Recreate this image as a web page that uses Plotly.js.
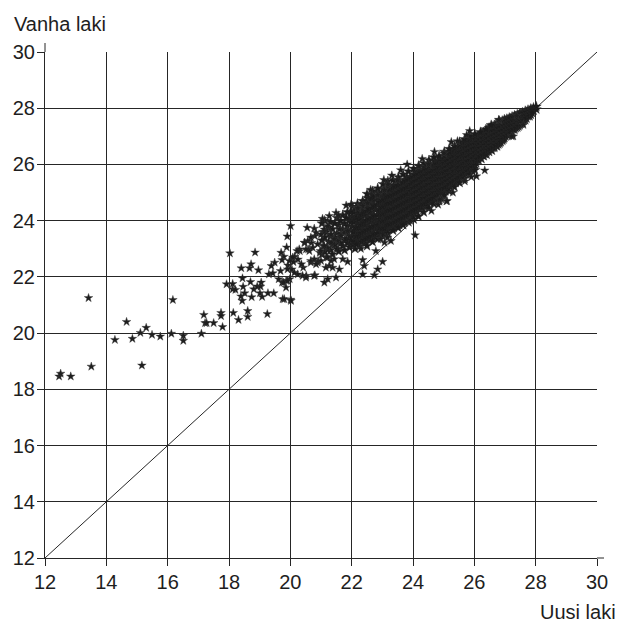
<!DOCTYPE html>
<html>
<head>
<meta charset="utf-8">
<script src="https://cdn.plot.ly/plotly-3.0.1.min.js"></script>
<style>html,body{margin:0;padding:0;background:#fff}#chart{width:621px;height:623px}</style>
</head>
<body>
<div id="chart"></div>
<script>
// Scattered individual points: [uusi laki, vanha laki]
const lowPoints = [
[12.46,18.46],[12.51,18.56],[12.84,18.46],[13.42,21.25],[13.51,18.81],[14.28,19.76],[14.66,20.40],[14.85,19.80],
[15.11,20.01],[15.16,18.85],[15.30,20.19],[15.49,19.94],[15.76,19.88],[16.12,19.98],[16.17,21.18],[16.51,19.91],
[16.51,19.73],[17.10,19.98],[17.18,20.65],[17.22,20.36],[17.27,20.36],[17.50,20.36],[17.74,20.72],[17.74,20.61],
[17.79,20.22],[18.14,20.72],[18.31,20.47],[18.61,20.79],[18.61,20.58],[19.25,20.68],[18.03,22.84],[18.85,22.87],
[18.40,22.31],[18.67,22.31],[18.72,22.45],[18.96,22.24],[18.44,21.95],[17.92,21.74],[18.12,21.75],[18.12,21.56],
[18.21,21.54],[18.46,21.65],[18.70,21.82],[18.51,21.42],[18.39,21.31],[18.43,21.15],[18.74,21.28],[18.81,21.56],
[18.92,21.66],[19.03,21.66],[19.05,21.80],[19.01,21.42],[19.08,21.29],[19.27,21.42],[19.46,21.42],[19.75,21.21],
[20.01,21.19]
];
const midPoints = [
[20.01,23.81],[19.90,23.44],[19.88,23.05],[19.70,22.86],[19.79,22.72],[19.73,22.60],[19.49,22.51],[19.38,22.39],
[19.30,22.09],[19.43,22.13],[19.62,21.92],[19.73,21.80],[19.87,21.86],[19.98,21.92],[19.68,22.21],[19.92,22.41],
[20.10,22.53],[20.05,22.27],[20.14,22.72],[20.31,22.92],[20.25,22.62],[20.55,23.75],[20.78,23.72],[20.47,23.21],
[20.58,22.98],[20.69,23.21],[20.80,23.45],[20.42,22.33],[20.52,22.04],[20.80,22.06],[20.67,22.51],[20.36,22.45],
[20.91,22.56],[20.96,22.86],[21.05,24.07],[21.27,24.17],[21.49,24.28],[21.57,24.19],[21.82,24.54],[21.98,24.58],
[22.20,24.46],[22.36,24.52],[22.52,24.62],[20.84,23.57],[21.00,23.51],[21.11,23.69],[21.22,23.81],[21.33,23.51],
[21.60,23.69],[21.76,23.57],[21.87,23.63],[21.65,23.46],[21.54,23.28],[21.43,23.34],[21.33,23.22],[21.22,23.04],
[21.11,23.10],[20.98,22.92],[20.89,23.16],[20.73,23.04],[20.62,22.92],[20.51,22.98],[20.67,23.40],[20.57,23.28],
[20.46,23.22],[20.29,22.98],[20.22,22.92],[20.08,22.69],[19.97,22.57],[20.67,22.57],[20.78,22.63],[20.89,22.51],
[21.00,22.57],[20.84,22.45],[21.22,22.69],[21.33,22.57],[21.43,22.63],[21.27,22.39],[21.38,22.33],[21.16,22.33],
[21.71,22.63],[21.87,22.54],[21.60,22.27],[22.36,22.60],[22.41,22.39],[23.01,22.54],[22.85,22.27],[22.74,22.06],
[22.36,22.09],[21.49,21.98],[21.22,21.92],[21.11,21.80],[20.78,22.04],[20.51,21.98],[20.40,22.04],[20.24,22.09],
[20.13,22.15],[19.91,22.27],[19.78,21.80],[19.91,21.86],[19.86,21.62],[19.80,21.21],[20.02,21.15],[24.07,23.48],
[23.17,23.40],[23.28,23.28],[23.07,23.22],[22.79,22.92]
];
const edgePoints = [
[23.81,26.00],[24.19,25.94],[24.51,26.01],[23.31,25.61],[23.18,25.29],[23.49,25.44],[23.07,25.09],[22.85,24.91],
[22.20,24.44],[25.01,26.39],[25.45,26.83],[25.85,27.19],[26.80,27.58],[27.38,27.73],[26.34,25.79],[26.07,25.58],
[25.69,25.40],[25.09,24.69],[24.82,24.57],[24.93,24.76],[24.87,24.75],[25.11,24.70],[27.27,27.00],[27.60,27.41],
[26.82,27.56],[27.22,27.00],[26.80,27.59],
[22.62,25.10],[23.05,25.45],[23.60,25.80],[24.30,26.20],[24.70,26.45],[25.25,26.80],[25.75,27.05],[23.90,24.00],
[24.60,24.35],[25.30,25.00],[25.90,25.55],[22.30,23.00],[22.95,23.35]
];
// Dense band, first pass: column positions and the vanha laki values read in each
const bandX = [
21.03,21.12,21.18,21.31,21.38,21.52,21.58,21.71,21.77,21.86,21.93,
22.02,22.11,22.19,22.27,22.36,22.44,22.53,22.61,22.70,22.78,22.87,22.95,
23.03,23.12,23.20,23.29,23.37,23.46,23.55,23.63,23.72,23.80,23.89,23.97,
24.04,24.12,24.21,24.29,24.38,24.46,24.55,24.63,24.72,24.80,24.89,24.97,
25.05,25.13,25.22,25.30,25.39,25.47,25.56,25.64,25.73,25.81,25.90,25.98,
26.06,26.14,26.23,26.31,26.40,26.48,26.57,26.65,26.74,26.82,26.91,26.98,
27.06,27.14,27.23,27.31,27.40,27.48,
27.57,27.66,27.75,27.84,27.93,28.02
];
const bandY = [
[23.9,23.3,22.8],[24.0,23.4,22.9],[23.6,23.0,22.7],[23.95,23.45,22.95],[23.7,23.15,22.8],[24.1,23.55,23.0],
[23.85,23.35,22.9],[24.2,23.7,23.1],[23.9,23.3,22.95],[24.3,23.8,23.2],[24.05,23.45,23.05],
[24.5,24.15,23.8,23.45,23.15],[24.35,24.0,23.65,23.3,23.0],[24.6,24.25,23.9,23.6,23.25],[24.45,24.1,23.75,23.4,23.1],
[24.7,24.3,24.0,23.7,23.35],[24.55,24.2,23.85,23.5,23.2],[24.8,24.45,24.1,23.8,23.45],[24.65,24.3,23.95,23.6,23.3],
[24.9,24.55,24.2,23.9,23.55],[24.75,24.4,24.05,23.7,23.4],[25.0,24.6,24.3,23.95,23.65],[24.85,24.5,24.15,23.8,23.5],
[25.1,24.85,24.6,24.35,24.1,23.85,23.6],[25.0,24.75,24.5,24.25,24.0,23.75,23.65],[25.2,24.95,24.7,24.45,24.2,23.95,23.7],
[25.05,24.8,24.55,24.3,24.05,23.8,24.9],[25.25,25.0,24.75,24.5,24.25,24.0,23.75],[25.15,24.9,24.65,24.4,24.15,23.9,23.8],
[25.35,25.1,24.85,24.6,24.35,24.1,23.85],[25.2,24.95,24.7,24.45,24.2,24.0,23.9],[25.45,25.2,24.95,24.7,24.45,24.2,23.95],
[25.3,25.05,24.8,24.55,24.3,24.1,25.55],[25.5,25.25,25.0,24.75,24.5,24.25,24.05],[25.4,25.15,24.9,24.65,24.4,24.2,24.1],
[25.65,25.45,25.25,25.05,24.85,24.65,24.45,24.25],[25.7,25.5,25.3,25.1,24.9,24.7,24.5,24.3],
[25.8,25.6,25.4,25.2,25.0,24.8,24.6,24.4],[25.75,25.55,25.35,25.15,24.95,24.75,24.55,24.45],
[25.9,25.7,25.5,25.3,25.1,24.9,24.7,24.5],[25.85,25.65,25.45,25.25,25.05,24.85,24.65,24.55],
[26.0,25.8,25.6,25.4,25.2,25.0,24.8,24.65],[25.95,25.75,25.55,25.35,25.15,24.95,24.75,24.7],
[26.1,25.9,25.7,25.5,25.3,25.1,24.9,24.75],[26.05,25.85,25.65,25.45,25.25,25.05,24.9,24.8],
[26.2,26.0,25.8,25.6,25.4,25.2,25.0,24.85],[26.15,25.95,25.75,25.55,25.35,25.15,25.0,24.9],
[26.3,26.15,25.95,25.8,25.6,25.45,25.25,25.05],[26.35,26.2,26.0,25.85,25.65,25.5,25.3,25.15],
[26.45,26.25,26.1,25.9,25.75,25.55,25.4,25.2],[26.5,26.3,26.1,25.95,25.75,25.6,25.4,25.3],
[26.55,26.4,26.2,26.05,25.85,25.7,25.5,25.35],[26.6,26.4,26.25,26.05,25.9,25.7,25.55,25.4],
[26.7,26.5,26.35,26.15,26.0,25.8,25.65,25.5],[26.75,26.55,26.4,26.2,26.05,25.85,25.7,25.6],
[26.85,26.65,26.5,26.3,26.15,25.95,25.8,25.65],[26.85,26.7,26.5,26.35,26.15,26.0,25.85,25.75],
[26.95,26.75,26.6,26.4,26.25,26.05,25.9,25.8],[26.95,26.8,26.6,26.45,26.3,26.1,25.95,25.85],
[26.95,26.8,26.65,26.5,26.35,26.2,26.05],[27.0,26.85,26.7,26.55,26.4,26.25,26.15],[27.1,26.95,26.8,26.65,26.5,26.35,26.2],
[27.15,27.0,26.85,26.7,26.55,26.4,26.3],[27.2,27.05,26.9,26.75,26.6,26.45,26.35],[27.3,27.15,27.0,26.85,26.7,26.55,26.45],
[27.35,27.2,27.05,26.9,26.75,26.6,26.5],[27.4,27.25,27.1,26.95,26.8,26.65,26.6],[27.45,27.3,27.15,27.0,26.85,26.75,26.65],
[27.5,27.35,27.2,27.05,26.95,26.8,26.75],[27.55,27.4,27.25,27.1,27.0,26.9,26.85],[27.6,27.45,27.3,27.15,27.05,26.95],
[27.62,27.48,27.34,27.2,27.05],[27.66,27.52,27.38,27.24,27.1],[27.7,27.56,27.42,27.28,27.18],
[27.74,27.6,27.46,27.34,27.25],[27.78,27.65,27.52,27.4,27.32],[27.82,27.7,27.58,27.46,27.4],
[27.85,27.74,27.62,27.5],[27.9,27.78,27.66,27.58],[27.94,27.82,27.72],[27.98,27.88,27.78],[28.02,27.92],[28.06,27.96]
];
// Dense band, second pass between the first-pass columns
const bandX2 = [
21.08,21.25,21.45,21.64,21.82,21.97,
22.06,22.15,22.23,22.32,22.40,22.48,22.57,22.65,22.74,22.83,22.91,22.99,
23.07,23.16,23.24,23.33,23.41,23.50,23.59,23.67,23.76,23.84,23.93,
24.00,24.08,24.17,24.25,24.33,24.42,24.50,24.59,24.67,24.76,24.84,24.93,
25.01,25.09,25.18,25.26,25.34,25.43,25.51,25.60,25.69,25.77,25.86,25.94,
26.02,26.10,26.18,26.27,26.35,26.44,26.52,26.61,26.69,26.78,26.86,26.95,
27.02,27.10,27.18,27.27,27.35,27.44,27.52,27.61,27.70,27.80,27.88
];
const bandY2 = [
[23.6,23.1],[23.75,23.25],[23.9,23.4,23.15],[24.0,23.5,23.2],[24.1,23.6,23.35],[24.3,23.95,23.65,23.3],
[24.3,23.95,23.6,23.25],[24.45,24.1,23.75,23.45,23.15],[24.4,24.05,23.75,23.45],[24.55,24.2,23.85,23.55,23.25],
[24.6,24.25,23.9,23.6,23.3],[24.7,24.35,24.0,23.65,23.35],[24.7,24.4,24.05,23.7,23.4],[24.8,24.45,24.1,23.75,23.45],
[24.85,24.5,24.15,23.8,23.5],[24.9,24.55,24.2,23.85,23.55],[24.95,24.65,24.35,24.05,23.75],
[25.0,24.72,24.47,24.22,23.97,23.72],
[24.97,24.72,24.47,24.22,23.97,23.72],[25.1,24.85,24.6,24.35,24.1,23.85],[25.12,24.87,24.62,24.37,24.12,23.87],
[25.15,24.9,24.65,24.4,24.15,23.9],[25.2,24.95,24.7,24.45,24.2,23.95],[25.25,25.0,24.75,24.5,24.25,24.0],
[25.3,25.05,24.8,24.55,24.3,24.05],[25.35,25.1,24.85,24.6,24.35,24.1],[25.4,25.15,24.9,24.65,24.4,24.15],
[25.45,25.2,24.95,24.7,24.45,24.2],[25.5,25.3,25.05,24.8,24.55,24.3],
[25.55,25.35,25.15,24.95,24.75,24.55,24.35],[25.6,25.4,25.2,25.0,24.8,24.6,24.4],
[25.65,25.45,25.25,25.05,24.85,24.65,24.45],[25.7,25.5,25.3,25.1,24.9,24.7,24.5],
[25.8,25.6,25.4,25.2,25.0,24.8,24.6],[25.8,25.6,25.4,25.2,25.0,24.8,24.6],
[25.9,25.7,25.5,25.3,25.1,24.9,24.7],[25.9,25.7,25.5,25.3,25.1,24.9,24.75],
[26.0,25.8,25.6,25.4,25.2,25.0,24.8],[26.0,25.8,25.6,25.4,25.2,25.0,24.85],
[26.1,25.9,25.7,25.5,25.3,25.1,24.95],[26.1,25.9,25.7,25.5,25.3,25.1,24.95],
[26.2,26.05,25.85,25.7,25.5,25.35,25.15],[26.25,26.1,25.9,25.75,25.55,25.4,25.2],
[26.35,26.15,26.0,25.8,25.65,25.45,25.3],[26.4,26.2,26.05,25.85,25.65,25.5,25.35],
[26.45,26.3,26.1,25.95,25.75,25.6,25.42],[26.5,26.3,26.15,25.95,25.8,25.6,25.48],
[26.6,26.45,26.25,26.1,25.9,25.75,25.55],[26.65,26.45,26.3,26.1,25.95,25.75,25.6],
[26.75,26.6,26.4,26.25,26.05,25.9,25.7],[26.8,26.6,26.45,26.25,26.1,25.9,25.75],
[26.85,26.7,26.5,26.35,26.15,26.0,25.85],[26.9,26.7,26.55,26.35,26.2,26.0,25.9],
[26.9,26.72,26.58,26.42,26.28,26.12,25.98],[26.92,26.78,26.62,26.48,26.32,26.18],
[27.02,26.88,26.72,26.58,26.42,26.28],[27.08,26.92,26.78,26.62,26.48,26.32],
[27.12,26.98,26.82,26.68,26.52,26.38],[27.22,27.08,26.92,26.78,26.62,26.5],
[27.28,27.12,26.98,26.82,26.68,26.55],[27.32,27.18,27.02,26.88,26.72,26.6],
[27.38,27.22,27.08,26.92,26.78,26.68],[27.42,27.28,27.12,26.98,26.85,26.72],
[27.48,27.32,27.18,27.02,26.9,26.8],[27.52,27.38,27.22,27.08,26.95,26.9],
[27.55,27.41,27.27,27.12,27.0],[27.59,27.45,27.31,27.17,27.05],[27.63,27.49,27.35,27.21,27.12],
[27.67,27.53,27.39,27.25],[27.71,27.57,27.43,27.3],[27.75,27.62,27.49,27.36],[27.8,27.68,27.55,27.45],
[27.82,27.7,27.56],[27.86,27.74,27.64],[27.9,27.8,27.72],[27.94,27.84]
];
// Dense band, third pass: upper and lower fringe of the black mass
const bandX3 = [
22.50,22.68,22.85,23.02,23.18,23.35,23.52,23.68,23.85,24.02,24.18,24.35,24.52,24.68,24.85,
25.02,25.18,25.35,25.52,25.68,25.85,26.02,26.20,26.38,26.55
];
const bandY3 = [
[24.95,23.1],[25.05,23.25],[25.15,23.35],[25.3,23.45],[25.4,23.55],[25.45,23.65],[25.55,23.75],[25.65,23.85],
[25.75,23.95],[25.85,24.05],[25.95,24.15],[26.05,24.3],[26.15,24.45],[26.25,24.6],[26.3,24.7],
[26.45,24.9],[26.55,25.05],[26.65,25.2],[26.8,25.35],[26.9,25.5],[27.0,25.65],[27.08,25.8],[27.15],[27.25],[27.4]
];
const diagonal = [12, 30];
const tickValues = [12, 14, 16, 18, 20, 22, 24, 26, 28, 30];
const tickLabels = ['12', '14', '16', '18', '20', '22', '24', '26', '28', '30'];
const yTitle = 'Vanha laki';
const xTitle = 'Uusi laki';

const sx = [], sy = [];
[lowPoints, midPoints, edgePoints].forEach(function (group) {
  group.forEach(function (p) { sx.push(p[0]); sy.push(p[1]); });
});
const bx = [], by = [];
[[bandX, bandY], [bandX2, bandY2], [bandX3, bandY3]].forEach(function (pair) {
  pair[0].forEach(function (x, i) { pair[1][i].forEach(function (y) { bx.push(x); by.push(y); }); });
});

const fontFamily = '"Liberation Sans", Arial, Helvetica, sans-serif';
const textColor = '#1e1e1e';
const lineColor = '#262626';

function makeAxis(standoff) {
  return {
    range: [12, 30],
    tickmode: 'array',
    tickvals: tickValues,
    ticktext: tickLabels,
    showgrid: true,
    gridcolor: lineColor,
    gridwidth: 1,
    showline: true,
    linecolor: lineColor,
    linewidth: 1,
    ticks: 'outside',
    ticklen: 7,
    tickwidth: 1,
    tickcolor: lineColor,
    ticklabelstandoff: standoff,
    zeroline: false,
    fixedrange: true,
    tickfont: {family: fontFamily, size: 20, color: textColor}
  };
}

const traces = [
  {x: diagonal, y: diagonal, mode: 'lines', type: 'scatter', line: {color: lineColor, width: 1}, hoverinfo: 'skip'},
  {x: bx, y: by, mode: 'markers', type: 'scatter',
   marker: {symbol: 'star', size: 7.5, color: '#1b1b1b', line: {color: '#2a2a2a', width: 0.4}}},
  {x: sx, y: sy, mode: 'markers', type: 'scatter',
   marker: {symbol: 'star', size: 6.5, color: '#1e1e1e', line: {color: '#3a3a3a', width: 0.4}}}
];

const layout = {
  width: 621, height: 623,
  margin: {l: 45, r: 24, t: 52, b: 65, pad: 0},
  paper_bgcolor: '#ffffff', plot_bgcolor: '#ffffff',
  showlegend: false,
  xaxis: makeAxis(-1),
  yaxis: makeAxis(-2),
  annotations: [
    {text: yTitle, xref: 'paper', yref: 'paper', x: 0, y: 1, xanchor: 'left', yanchor: 'bottom',
     xshift: -33, yshift: 15, showarrow: false, font: {family: fontFamily, size: 20, color: textColor}},
    {text: xTitle, xref: 'paper', yref: 'paper', x: 1, y: 0, xanchor: 'right', yanchor: 'top',
     xshift: 21, yshift: -41, showarrow: false, font: {family: fontFamily, size: 20, color: textColor}}
  ],
  shapes: [
    {type: 'line', xref: 'paper', yref: 'paper', x0: 0, x1: 0, y0: 1, y1: 1 + 9 / 506,
     line: {color: lineColor, width: 1}},
    {type: 'line', xref: 'paper', yref: 'paper', x0: 1, x1: 1 + 7 / 552, y0: 0, y1: 0,
     line: {color: lineColor, width: 1}}
  ]
};

Plotly.newPlot('chart', traces, layout, {staticPlot: true, displayModeBar: false});
</script>
</body>
</html>
